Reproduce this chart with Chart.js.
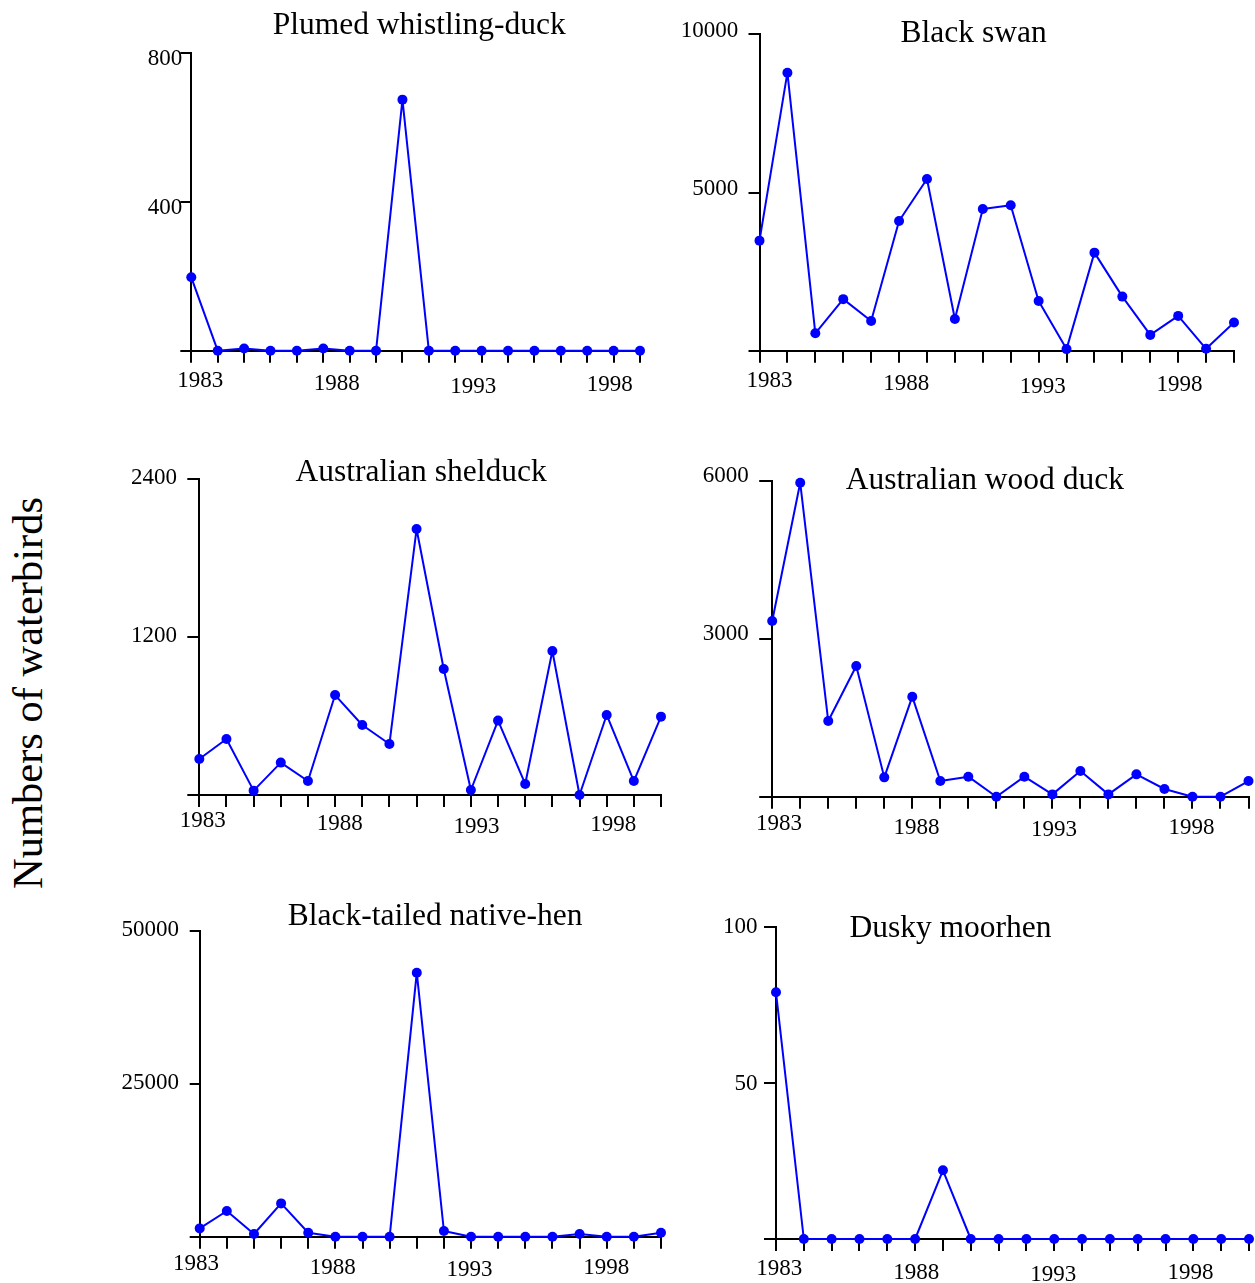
<!DOCTYPE html>
<html>
<head>
<meta charset="utf-8">
<script src="https://cdn.jsdelivr.net/npm/chart.js@4.4.1/dist/chart.umd.min.js"></script>
<style>
  html, body { margin:0; padding:0; background:#fff; }
  body { width:1255px; height:1283px; position:relative; overflow:hidden; }
  canvas { position:absolute; }
  #ylab {
    position:absolute; left:-182px; top:669px; width:420px; height:48px;
    line-height:48px; text-align:center; white-space:nowrap;
    font-family:"Liberation Serif","Times New Roman",serif; font-size:42.5px; color:#000;
    transform:rotate(-90deg); transform-origin:50% 50%;
  }
</style>
</head>
<body>
<div id="ylab">Numbers of waterbirds</div>
<canvas id="c1"></canvas>
<canvas id="c2"></canvas>
<canvas id="c3"></canvas>
<canvas id="c4"></canvas>
<canvas id="c5"></canvas>
<canvas id="c6"></canvas>
<script>
// ---------------- data ----------------
const years = [1983,1984,1985,1986,1987,1988,1989,1990,1991,1992,1993,1994,1995,1996,1997,1998,1999,2000];
const xTickLabels = [1983, 1988, 1993, 1998];
const titles = ['Plumed whistling-duck', 'Black swan', 'Australian shelduck',
                'Australian wood duck', 'Black-tailed native-hen', 'Dusky moorhen'];

const plumedWhistlingDuck = [197, 0, 6, 0, 0, 6, 0, 0, 674, 0, 0, 0, 0, 0, 0, 0, 0, 0];
const blackSwan           = [3480, 8790, 550, 1630, 940, 4100, 5430, 1000, 4480, 4600, 1570, 50, 3100, 1710, 500, 1100, 60, 890];
const australianShelduck  = [273, 425, 33, 246, 106, 759, 532, 387, 2020, 957, 38, 565, 84, 1094, 0, 608, 106, 595];
const australianWoodDuck  = [3335, 5960, 1437, 2481, 367, 1899, 297, 380, 0, 380, 44, 487, 44, 424, 146, 0, 0, 297];
const blackTailedNativeHen= [1360, 4200, 440, 5450, 650, 0, 0, 0, 43180, 930, 0, 0, 0, 0, 440, 0, 0, 650];
const duskyMoorhen        = [79, 0, 0, 0, 0, 0, 22, 0, 0, 0, 0, 0, 0, 0, 0, 0, 0, 0];

const plumedTicks   = [0, 400, 800];
const swanTicks     = [0, 5000, 10000];
const shelduckTicks = [0, 1200, 2400];
const woodDuckTicks = [0, 3000, 6000];
const nativeHenTicks= [0, 25000, 50000];
const moorhenTicks  = [0, 50, 100];

// ---------------- layout / style ----------------
const FONT = '"Liberation Serif", "Times New Roman", serif';
const BLUE = 'rgb(0,0,255)';
const WY = 95, HXL = 55;
const STAGGER = [0, 3.5, 6, 4];
const TITLE_SIZE = 31.5;
const TICK_SIZE = 23;

const panels = [
  {id:'c1', title:titles[0], values:plumedWhistlingDuck, yTicks:plumedTicks,
   pl:191.3, pr:640, pt:52.7, pb:350.7, cx:90, cy:0, cw:560, ch:411,
   tl:11, yPad:-2, yOff:6.5, la:9, lb:418.5, xPad:18.2, tx:272.7, ty:34.3, clip:null},
  {id:'c2', title:titles[1], values:blackSwan, yTicks:swanTicks,
   pl:759.5, pr:1234, pt:34.4, pb:350.7, cx:660, cy:0, cw:590, ch:411,
   tl:11, yPad:10.3, yOff:-3.5, la:10, lb:420, xPad:18.2, tx:900.6, ty:41.7, clip:1047},
  {id:'c3', title:titles[2], values:australianShelduck, yTicks:shelduckTicks,
   pl:199.3, pr:664.3, pt:479, pb:795, cx:90, cy:440, cw:576, ch:415,
   tl:12, yPad:10.2, yOff:-1.5, la:3.6, lb:417, xPad:13.9, tx:295.6, ty:480.7, clip:null},
  {id:'c4', title:titles[3], values:australianWoodDuck, yTicks:woodDuckTicks,
   pl:772.2, pr:1248.5, pt:480.7, pb:796.7, cx:660, cy:440, cw:595, ch:417,
   tl:13, yPad:10.5, yOff:-4.5, la:6.7, lb:419.3, xPad:15.6, tx:845.7, ty:489, clip:null},
  {id:'c5', title:titles[4], values:blackTailedNativeHen, yTicks:nativeHenTicks,
   pl:199.7, pr:664, pt:931, pb:1236.7, cx:90, cy:880, cw:576, ch:417,
   tl:10, yPad:10.8, yOff:-0.7, la:-3.6, lb:409.3, xPad:15.6, tx:287.7, ty:925, clip:589},
  {id:'c6', title:titles[5], values:duskyMoorhen, yTicks:moorhenTicks,
   pl:776, pr:1249, pt:926.7, pb:1239, cx:660, cy:880, cw:595, ch:419,
   tl:12, yPad:6.4, yOff:0.7, la:3.2, lb:414.4, xPad:18.3, tx:849.4, ty:936.7, clip:1056}
];

const panelTitle = {
  id: 'panelTitle',
  afterDraw(chart, args, opts) {
    const c = chart.ctx;
    c.save();
    if (opts.clipX !== null && opts.clipX !== undefined) {
      c.beginPath(); c.rect(0, 0, opts.clipX, chart.height); c.clip();
    }
    c.font = opts.size + 'px ' + FONT;
    c.fillStyle = '#000';
    c.textAlign = 'left';
    c.textBaseline = 'alphabetic';
    c.fillText(opts.text, opts.x, opts.y);
    c.restore();
  }
};

function fix(w, h) {
  return s => {
    s.paddingLeft = 0; s.paddingRight = 0; s.paddingTop = 0; s.paddingBottom = 0;
    if (w !== null) s.width = w;
    if (h !== null) s.height = h;
  };
}

panels.forEach(p => {
  const cv = document.getElementById(p.id);
  cv.width = p.cw; cv.height = p.ch;
  cv.style.left = p.cx + 'px'; cv.style.top = p.cy + 'px';
  cv.style.width = p.cw + 'px'; cv.style.height = p.ch + 'px';

  const W = p.pr - p.pl;
  const span = 15 * W / (p.lb - p.la);
  const lmin = 1983 - p.la * span / W;
  const lmax = lmin + span;
  const ymax = p.yTicks[p.yTicks.length - 1];

  new Chart(cv, {
    type: 'line',
    data: {
      datasets: [{
        data: years.map((yr, i) => ({x: yr, y: p.values[i]})),
        borderColor: BLUE, backgroundColor: BLUE, borderWidth: 2,
        borderJoinStyle: 'round', borderCapStyle: 'round',
        pointRadius: 5, pointHoverRadius: 5, pointBackgroundColor: BLUE,
        pointBorderWidth: 0, tension: 0, clip: false, xAxisID: 'x', yAxisID: 'y'
      }]
    },
    options: {
      responsive: false, animation: false, devicePixelRatio: 1, events: [],
      layout: { padding: {
        left: p.pl - p.cx - WY, right: p.cx + p.cw - p.pr,
        top: p.pt - p.cy, bottom: p.cy + p.ch - p.pb - HXL } },
      plugins: {
        legend: {display: false}, tooltip: {enabled: false}, title: {display: false},
        panelTitle: { text: p.title, x: p.tx - p.cx, y: p.ty - p.cy,
                      clipX: p.clip === null ? null : p.clip - p.cx, size: TITLE_SIZE }
      },
      scales: {
        x: {
          type: 'linear', position: 'bottom', min: years[0], max: years[years.length - 1], weight: 0,
          afterBuildTicks: s => { s.ticks = years.map(v => ({value: v})); },
          ticks: {display: false},
          grid: {display: true, drawOnChartArea: false, drawTicks: true, tickLength: 12, color: '#000', lineWidth: 2},
          border: {display: true, color: '#000', width: 2},
          afterFit: fix(null, 0)
        },
        xl: {
          type: 'linear', position: 'bottom', min: lmin, max: lmax, weight: 1,
          afterBuildTicks: s => { s.ticks = xTickLabels.map(v => ({value: v})); },
          ticks: {
            autoSkip: false, maxRotation: 0, minRotation: 0, padding: p.xPad, color: '#000',
            callback: v => String(v),
            font: ctx => ({family: FONT, size: TICK_SIZE,
                           lineHeight: (24 + 2 * (STAGGER[ctx.index] || 0)) + 'px'})
          },
          grid: {display: false, drawTicks: false},
          border: {display: false},
          afterFit: fix(null, HXL)
        },
        y: {
          type: 'linear', position: 'left', min: 0, max: ymax,
          afterBuildTicks: s => { s.ticks = p.yTicks.map(v => ({value: v})); },
          ticks: {
            padding: p.yPad, labelOffset: p.yOff, color: '#000',
            font: {family: FONT, size: TICK_SIZE},
            callback: v => (v === 0 ? '' : String(v))
          },
          grid: {display: true, drawOnChartArea: false, drawTicks: true, tickLength: p.tl, color: '#000', lineWidth: 2},
          border: {display: true, color: '#000', width: 2},
          afterFit: fix(WY, null)
        }
      }
    },
    plugins: [panelTitle]
  });
});
</script>
</body>
</html>
